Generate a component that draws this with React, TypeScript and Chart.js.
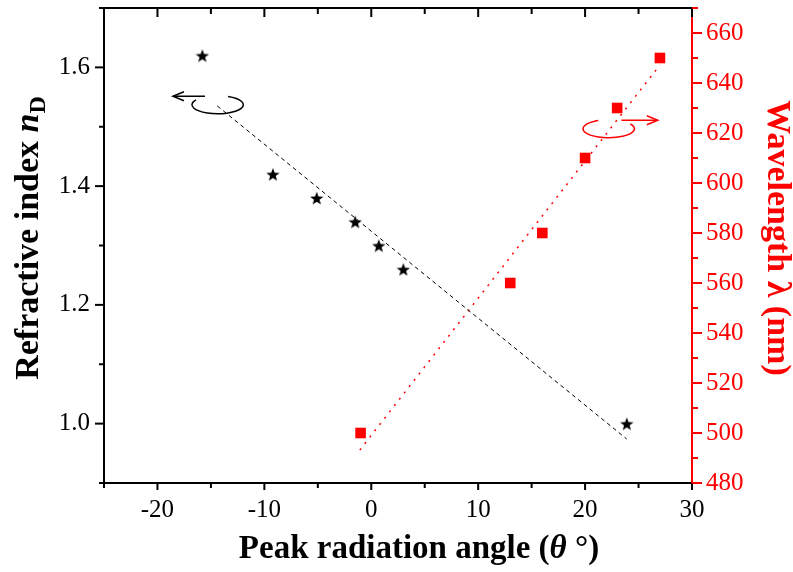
import { useEffect, useRef } from 'react';
import { Chart, registerables } from 'chart.js';
Chart.register(...registerables);

const W = 793;
const H = 572;
const FONT = "'Liberation Serif', 'Times New Roman', serif";

// Refractive index data (stars, left axis)
const angleN = [-15.8, -9.2, -5.1, -1.5, 0.7, 3.0, 23.9];
const indexN = [1.62, 1.42, 1.38, 1.34, 1.30, 1.26, 1.00];
// Wavelength data (squares, right axis)
const angleL = [-1, 13, 16, 20, 23, 27];
const waveL = [500, 560, 580, 610, 630, 650];
// Linear fits (end points)
const fitNX = [-14.4, 23.9];
const fitNY = [1.535, 0.974];
const fitLX = [-1.07, 27];
const fitLY = [493.2, 647.2];
// Axis ranges
const xRange = [-25, 30];
const yRange = [0.9, 1.7];
const y2Range = [480, 670];
// Rotation-arrow annotation anchors (data coords)
const noteLeft = { x: -14.37, y: 1.537, tipX: -18.55 };
const noteRight = { x: 22.21, y: 621.7, tipX: 26.8 };

function makeStar(size: number, color: string) {
  const c = document.createElement('canvas');
  c.width = size;
  c.height = size;
  const g = c.getContext('2d')!;
  const cx = size / 2;
  const cy = size / 2 + size * 0.06;
  const R = size / 2;
  const r = R * 0.42;
  g.beginPath();
  for (let i = 0; i < 10; i++) {
    const a = -Math.PI / 2 + (i * Math.PI) / 5;
    const rad = i % 2 === 0 ? R : r;
    g.lineTo(cx + rad * Math.cos(a), cy + rad * Math.sin(a));
  }
  g.closePath();
  g.fillStyle = color;
  g.fill();
  return c;
}

function drawSegments(ctx: CanvasRenderingContext2D, segs: { t: string; f: string; dy?: number }[], x: number, y: number) {
  let cx = x;
  for (const s of segs) {
    ctx.font = s.f;
    ctx.fillText(s.t, cx, y + (s.dy || 0));
    cx += ctx.measureText(s.t).width;
  }
}
function segWidth(ctx: CanvasRenderingContext2D, segs: { t: string; f: string }[]) {
  let w = 0;
  for (const s of segs) {
    ctx.font = s.f;
    w += ctx.measureText(s.t).width;
  }
  return w;
}

function arrowHead(ctx: CanvasRenderingContext2D, x: number, y: number, dir: number) {
  ctx.beginPath();
  ctx.moveTo(x - dir * 11, y - 4.5);
  ctx.lineTo(x, y);
  ctx.lineTo(x - dir * 11, y + 4.5);
  ctx.stroke();
}

const customPlugin = {
  id: 'custom',
  afterDraw(chart: any) {
    const ctx: CanvasRenderingContext2D = chart.ctx;
    const { left, right, top, bottom } = chart.chartArea;
    const xs = chart.scales.x;
    const ys = chart.scales.y;
    const y2s = chart.scales.y2;
    ctx.save();
    ctx.lineCap = 'butt';
    ctx.lineWidth = 2;
    ctx.strokeStyle = '#000';
    // top frame line
    ctx.beginPath();
    ctx.moveTo(left - 1, top);
    ctx.lineTo(right, top);
    ctx.stroke();
    // x ticks (bottom outward, top inward)
    xs.ticks.forEach((t: any) => {
      const px = xs.getPixelForValue(t.value);
      const major = t.label !== '';
      ctx.beginPath();
      ctx.moveTo(px, bottom);
      ctx.lineTo(px, bottom + (major ? 7 : 5));
      ctx.moveTo(px, top);
      ctx.lineTo(px, top + (major ? 9 : 6));
      ctx.stroke();
    });
    // left ticks
    ys.ticks.forEach((t: any) => {
      const py = ys.getPixelForValue(t.value);
      const major = t.label !== '';
      ctx.beginPath();
      ctx.moveTo(left, py);
      ctx.lineTo(left - (major ? 9 : 5), py);
      ctx.stroke();
    });
    // right ticks (red)
    ctx.strokeStyle = '#ff0000';
    y2s.ticks.forEach((t: any) => {
      const py = y2s.getPixelForValue(t.value);
      const major = t.label !== '';
      ctx.beginPath();
      ctx.moveTo(right, py);
      ctx.lineTo(right + (major ? 10 : 6), py);
      ctx.stroke();
    });

    // annotations: rotation arrows
    const rx = 25.7;
    const ry = 9;
    ctx.lineWidth = 1.5;
    // left (black)
    {
      const cx = xs.getPixelForValue(noteLeft.x);
      const cy = ys.getPixelForValue(noteLeft.y);
      ctx.strokeStyle = '#000';
      ctx.beginPath();
      ctx.ellipse(cx, cy, rx, ry, 0, (294 * Math.PI) / 180, ((213 + 360) * Math.PI) / 180);
      ctx.stroke();
      const tip = xs.getPixelForValue(noteLeft.tipX);
      const ay = cy - ry + 0.5;
      ctx.beginPath();
      ctx.moveTo(cx - 12.7, ay);
      ctx.lineTo(tip, ay);
      ctx.stroke();
      arrowHead(ctx, tip, ay, -1);
    }
    // right (red)
    {
      const cx = xs.getPixelForValue(noteRight.x);
      const cy = y2s.getPixelForValue(noteRight.y);
      ctx.strokeStyle = '#ff0000';
      ctx.beginPath();
      ctx.ellipse(cx, cy, rx, ry, 0, (327 * Math.PI) / 180, ((246 + 360) * Math.PI) / 180);
      ctx.stroke();
      const tip = xs.getPixelForValue(noteRight.tipX);
      const ay = cy - ry + 0.5;
      ctx.beginPath();
      ctx.moveTo(cx + 12.7, ay);
      ctx.lineTo(tip, ay);
      ctx.stroke();
      arrowHead(ctx, tip, ay, 1);
    }

    // axis titles
    const bold = `bold 33px ${FONT}`;
    const boldIt = `italic bold 33px ${FONT}`;
    const boldL = `bold 34px ${FONT}`;
    const boldItL = `italic bold 34px ${FONT}`;
    const sub = `bold 24px ${FONT}`;
    ctx.textBaseline = 'alphabetic';
    ctx.textAlign = 'left';
    // bottom
    ctx.fillStyle = '#000';
    const bsegs = [
      { t: 'Peak radiation angle (', f: bold },
      { t: '\u03B8', f: boldIt },
      { t: ' \u00B0)', f: bold },
    ];
    const bw = segWidth(ctx, bsegs);
    drawSegments(ctx, bsegs, 419 - bw / 2, 558);
    // left
    const lsegs = [
      { t: 'Refractive index ', f: boldL },
      { t: 'n', f: boldItL },
      { t: 'D', f: sub, dy: 7 },
    ];
    const lw = segWidth(ctx, lsegs);
    ctx.save();
    ctx.translate(38, 238);
    ctx.rotate(-Math.PI / 2);
    drawSegments(ctx, lsegs, -lw / 2, 0);
    ctx.restore();
    // right
    ctx.fillStyle = '#ff0000';
    const rsegs = [{ t: 'Wavelength \u03BB (nm)', f: boldL }];
    const rw = segWidth(ctx, rsegs);
    ctx.save();
    ctx.translate(768, 238);
    ctx.rotate(Math.PI / 2);
    drawSegments(ctx, rsegs, -rw / 2, 0);
    ctx.restore();

    ctx.restore();
  },
};

const noPad = (s: any) => {
  s.paddingTop = 0;
  s.paddingBottom = 0;
  s.paddingLeft = 0;
  s.paddingRight = 0;
};

export default function App() {
  const ref = useRef<HTMLCanvasElement>(null);
  useEffect(() => {
    const canvas = ref.current!;
    const star = makeStar(14, '#000');
    const tickFont = { family: FONT, size: 25 };
    const chart = new Chart(canvas, {
      type: 'scatter',
      data: {
        datasets: [
          {
            label: 'fitN',
            type: 'line',
            data: fitNX.map((x, i) => ({ x, y: fitNY[i] })),
            yAxisID: 'y',
            borderColor: '#000',
            borderWidth: 1,
            borderDash: [4, 3.5],
            pointRadius: 0,
            fill: false,
          },
          {
            label: 'fitL',
            type: 'line',
            data: fitLX.map((x, i) => ({ x, y: fitLY[i] })),
            yAxisID: 'y2',
            borderColor: '#ff0000',
            borderWidth: 1.5,
            borderDash: [2, 6],
            pointRadius: 0,
            fill: false,
          },
          {
            label: 'index',
            data: angleN.map((x, i) => ({ x, y: indexN[i] })),
            yAxisID: 'y',
            pointStyle: star as any,
            pointRadius: 7,
          },
          {
            label: 'wavelength',
            data: angleL.map((x, i) => ({ x, y: waveL[i] })),
            yAxisID: 'y2',
            pointStyle: 'rect',
            pointRadius: 7.5,
            backgroundColor: '#ff0000',
            borderColor: '#ff0000',
            borderWidth: 0,
          },
        ],
      },
      options: {
        responsive: false,
        animation: false,
        devicePixelRatio: 1,
        layout: { padding: { top: 8, left: 0, right: 0, bottom: 0 } },
        plugins: { legend: { display: false }, tooltip: { enabled: false } },
        scales: {
          x: {
            type: 'linear',
            position: 'bottom',
            min: xRange[0],
            max: xRange[1],
            afterFit: (s: any) => {
              s.height = H - 483;
              noPad(s);
            },
            border: { display: true, color: '#000', width: 2 },
            grid: { drawOnChartArea: false, drawTicks: true, tickLength: 7, tickColor: 'rgba(0,0,0,0)' },
            ticks: {
              stepSize: 5,
              autoSkip: false,
              maxRotation: 0,
              padding: 5,
              color: '#000',
              font: tickFont,
              callback: (v: any) => (Number(v) % 10 === 0 ? String(v) : ''),
            },
          },
          y: {
            type: 'linear',
            position: 'left',
            min: yRange[0],
            max: yRange[1],
            afterFit: (s: any) => {
              s.width = 104;
              noPad(s);
            },
            border: { display: true, color: '#000', width: 2 },
            grid: { drawOnChartArea: false, drawTicks: true, tickLength: 9, tickColor: 'rgba(0,0,0,0)' },
            ticks: {
              stepSize: 0.1,
              autoSkip: false,
              padding: 5,
              color: '#000',
              font: tickFont,
              callback: (v: any) => {
                const k = Math.round(Number(v) * 10);
                return k % 2 === 0 && k >= 10 && k <= 16 ? (k / 10).toFixed(1) : '';
              },
            },
          },
          y2: {
            type: 'linear',
            position: 'right',
            min: y2Range[0],
            max: y2Range[1],
            afterFit: (s: any) => {
              s.width = W - 692;
              noPad(s);
            },
            border: { display: true, color: '#ff0000', width: 2 },
            grid: { drawOnChartArea: false, drawTicks: true, tickLength: 10, tickColor: 'rgba(0,0,0,0)' },
            ticks: {
              stepSize: 10,
              autoSkip: false,
              padding: 4,
              color: '#ff0000',
              font: tickFont,
              callback: (v: any) => (Number(v) % 20 === 0 ? String(v) : ''),
            },
          },
        },
      },
      plugins: [customPlugin],
    } as any);
    return () => chart.destroy();
  }, []);
  return (
    <div style={{ position: 'fixed', left: 0, top: 0, width: W, height: H, background: '#fff' }}>
      <canvas ref={ref} width={W} height={H} style={{ width: W, height: H, display: 'block' }} />
    </div>
  );
}
